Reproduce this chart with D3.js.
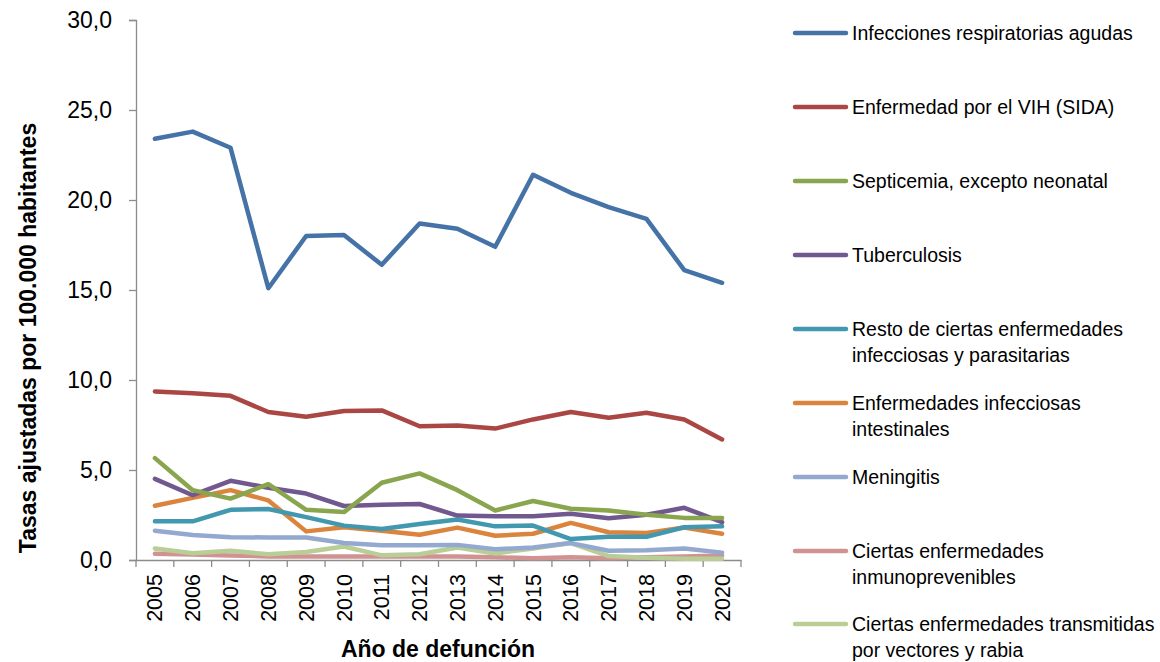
<!DOCTYPE html>
<html><head><meta charset="utf-8">
<script src="https://cdn.jsdelivr.net/npm/d3@7"></script>
<style>body{margin:0;background:#fff}svg{display:block}text{font-family:"Liberation Sans",Arial,sans-serif;fill:#000}</style>
</head><body><svg id="c" width="1160" height="662"></svg>
<script>
const years = ["2005","2006","2007","2008","2009","2010","2011","2012","2013","2014","2015","2016","2017","2018","2019","2020"];
const seriesNames = ["Infecciones respiratorias agudas","Enfermedad por el VIH (SIDA)","Septicemia, excepto neonatal","Tuberculosis","Resto de ciertas enfermedades infecciosas y parasitarias","Enfermedades infecciosas intestinales","Meningitis","Ciertas enfermedades inmunoprevenibles","Ciertas enfermedades transmitidas por vectores y rabia"];
const legendLines = [["Infecciones respiratorias agudas"],["Enfermedad por el VIH (SIDA)"],["Septicemia, excepto neonatal"],["Tuberculosis"],["Resto de ciertas enfermedades","infecciosas y parasitarias"],["Enfermedades infecciosas","intestinales"],["Meningitis"],["Ciertas enfermedades","inmunoprevenibles"],["Ciertas enfermedades transmitidas","por vectores y rabia"]];
const colors = ["#4572A7","#AA4643","#89A54E","#71588F","#4198AF","#DB843D","#93A9CF","#D19392","#B9CD96"];
const respiratorias = [23.4,23.8,22.9,15.1,18.0,18.05,16.4,18.7,18.4,17.4,21.4,20.4,19.6,18.95,16.1,15.4];
const vih = [9.36,9.27,9.12,8.22,7.96,8.28,8.31,7.43,7.47,7.30,7.81,8.22,7.90,8.18,7.81,6.70];
const septicemia = [5.66,3.88,3.41,4.21,2.79,2.66,4.29,4.81,3.88,2.75,3.28,2.85,2.75,2.51,2.34,2.34];
const tuberculosis = [4.51,3.60,4.40,4.01,3.69,3.00,3.07,3.11,2.47,2.43,2.43,2.57,2.32,2.51,2.90,2.10];
const resto = [2.15,2.15,2.79,2.83,2.38,1.91,1.72,2.00,2.25,1.87,1.91,1.16,1.29,1.29,1.82,1.87];
const intestinales = [3.01,3.45,3.88,3.31,1.59,1.82,1.63,1.40,1.80,1.35,1.46,2.06,1.54,1.50,1.80,1.46];
const meningitis = [1.63,1.39,1.27,1.25,1.25,0.94,0.82,0.82,0.84,0.60,0.69,0.94,0.51,0.54,0.64,0.41];
const inmunoprevenibles = [0.35,0.30,0.25,0.20,0.20,0.20,0.20,0.20,0.20,0.15,0.10,0.15,0.10,0.15,0.20,0.25];
const vectores = [0.64,0.37,0.51,0.32,0.45,0.75,0.26,0.32,0.69,0.36,0.64,0.94,0.22,0.13,0.07,0.07];
const yTicks = [0,5,10,15,20,25,30];
const allSeries = [respiratorias,vih,septicemia,tuberculosis,resto,intestinales,meningitis,inmunoprevenibles,vectores];

const svg = d3.select("#c");
const pl = 136, pr = 741, pt = 20, pb = 560;
const x = d3.scaleBand().domain(years).range([pl, pr]);
const y = d3.scaleLinear().domain([0, 30]).range([pb, pt]);
const axisColor = "#8c8c8c";

// y axis
const ya = svg.append("g").attr("transform", `translate(${pl},0)`)
  .call(d3.axisLeft(y).tickValues(yTicks).tickSize(7).tickPadding(17).tickFormat(d => d3.format(".1f")(d).replace(".", ",")));
ya.select(".domain").attr("stroke", axisColor).attr("stroke-width", 1.3);
ya.selectAll(".tick line").attr("stroke", axisColor).attr("stroke-width", 1.3);
ya.selectAll(".tick text").style("font-size", "23px").attr("fill", "#000");

// x axis
const xa = svg.append("g").attr("transform", `translate(0,${pb})`)
  .call(d3.axisBottom(x).tickSize(0).tickSizeOuter(0));
xa.select(".domain").attr("stroke", axisColor).attr("stroke-width", 1.3);
xa.selectAll(".tick text").style("font-size", "21.5px").attr("fill", "#000")
  .attr("transform", "rotate(-90)").attr("text-anchor", "end")
  .attr("x", -14).attr("y", 0).attr("dy", "0.35em");
// band boundary ticks
const bounds = years.map(d => x(d)).concat([x(years[years.length-1]) + x.bandwidth()]);
svg.append("g").selectAll("line").data(bounds).join("line")
  .attr("x1", d => d).attr("x2", d => d).attr("y1", pb).attr("y2", pb + 7)
  .attr("stroke", axisColor).attr("stroke-width", 1.3);

// lines
const line = d3.line().x((d, i) => x(years[i]) + x.bandwidth() / 2).y(d => y(d));
const order = [7,8,6,5,4,3,2,1,0];
svg.append("g").selectAll("path").data(order).join("path")
  .attr("d", i => line(allSeries[i])).attr("fill", "none")
  .attr("stroke", i => colors[i]).attr("stroke-width", 4.5)
  .attr("stroke-linejoin", "round").attr("stroke-linecap", "round");

// axis titles
svg.append("text").attr("transform", `translate(36,338) rotate(-90)`)
  .attr("text-anchor", "middle").style("font-size", "23px").style("font-weight", "bold")
  .text("Tasas ajustadas por 100.000 habitantes");
svg.append("text").attr("x", 438).attr("y", 657).attr("text-anchor", "middle")
  .style("font-size", "23px").style("font-weight", "bold").text("Año de defunción");

// legend
const lg = svg.append("g");
const lgY = [33,107,181,255,329,403,477,551,624];
legendLines.forEach((lines, i) => {
  const g = lg.append("g").attr("transform", `translate(0,${lgY[i]})`);
  g.append("line").attr("x1", 795).attr("x2", 846).attr("y1", 0).attr("y2", 0)
    .attr("stroke", colors[i]).attr("stroke-width", 4.5).attr("stroke-linecap", "round");
  const t = g.append("text").attr("x", 852).attr("y", 0).style("font-size", "19.5px");
  lines.forEach((l, j) => t.append("tspan").attr("x", 852).attr("dy", j === 0 ? "0.35em" : "1.36em").text(l));
});
</script></body></html>
